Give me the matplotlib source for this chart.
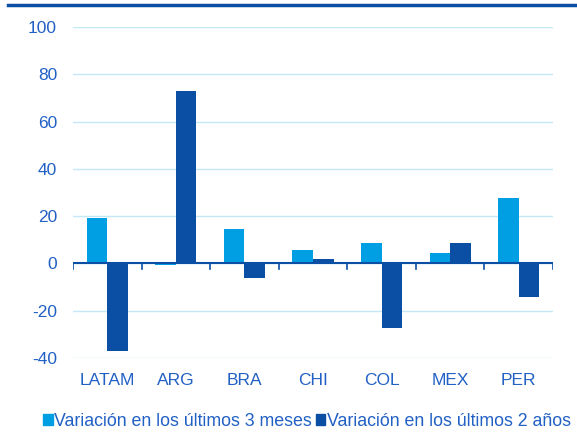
import numpy as np
import matplotlib
matplotlib.use("Agg")
import matplotlib.pyplot as plt
from matplotlib.patches import Patch
from matplotlib.lines import Line2D

categories = ["LATAM", "ARG", "BRA", "CHI", "COL", "MEX", "PER"]
var_3m = [19.2, -0.5, 14.4, 5.5, 8.8, 4.3, 27.8]
var_2y = [-37.2, 73.0, -6.0, 2.0, -27.2, 8.5, -14.0]
labels = ["Variación en los últimos 3 meses", "Variación en los últimos 2 años"]
yticks = [-40, -20, 0, 20, 40, 60, 80, 100]

light = "#009FE3"
dark = "#0A4FA3"
txt = "#2160C4"
grid = "#C4E8F7"

plt.rcParams["font.family"] = ["Liberation Sans", "DejaVu Sans"]
plt.rcParams["axes.unicode_minus"] = False

fig = plt.figure(figsize=(5.77, 4.34), dpi=100)
ax = fig.add_axes([73 / 577, 1 - 358 / 434, (553 - 73) / 577, (358 - 27) / 434])

x = np.arange(len(categories))
w = 0.30
ax.bar(x - w / 2, var_3m, w, color=light, zorder=3)
ax.bar(x + w / 2, var_2y, w, color=dark, zorder=3)

ax.set_xlim(-0.5, len(categories) - 0.5)
ax.set_ylim(-40, 100)
ax.set_yticks(yticks)
ax.yaxis.grid(True, color=grid, linewidth=1, zorder=0)
ax.set_axisbelow(True)
for s in ax.spines.values():
    s.set_visible(False)
ax.tick_params(axis="y", length=0, labelcolor=txt, labelsize=12.5, pad=11.5)
ax.set_xticks([])

# zero line with small tick marks between categories
ax.axhline(0, color=dark, linewidth=1.5, zorder=4)
for b in np.arange(-0.5, len(categories), 1.0):
    ax.plot([b, b], [0, -2.2], color=dark, linewidth=1.2, zorder=4)
for xi, c in zip(x, categories):
    ax.text(xi, -49.5, c, ha="center", va="center", color=txt, fontsize=12.5)

# top rule
fig.add_artist(Line2D([8 / 577, 1], [1 - 5 / 434, 1 - 5 / 434], color=dark, linewidth=2.5))

handles = [Patch(color=light), Patch(color=dark)]
fig.legend(handles, labels, loc="center", bbox_to_anchor=(0.532, 1 - 421 / 434),
           ncol=2, frameon=False, fontsize=12.8, labelcolor=txt,
           handlelength=0.55, handleheight=0.6, handletextpad=0.1, columnspacing=0.2)

fig.savefig("out.png", dpi=100)
